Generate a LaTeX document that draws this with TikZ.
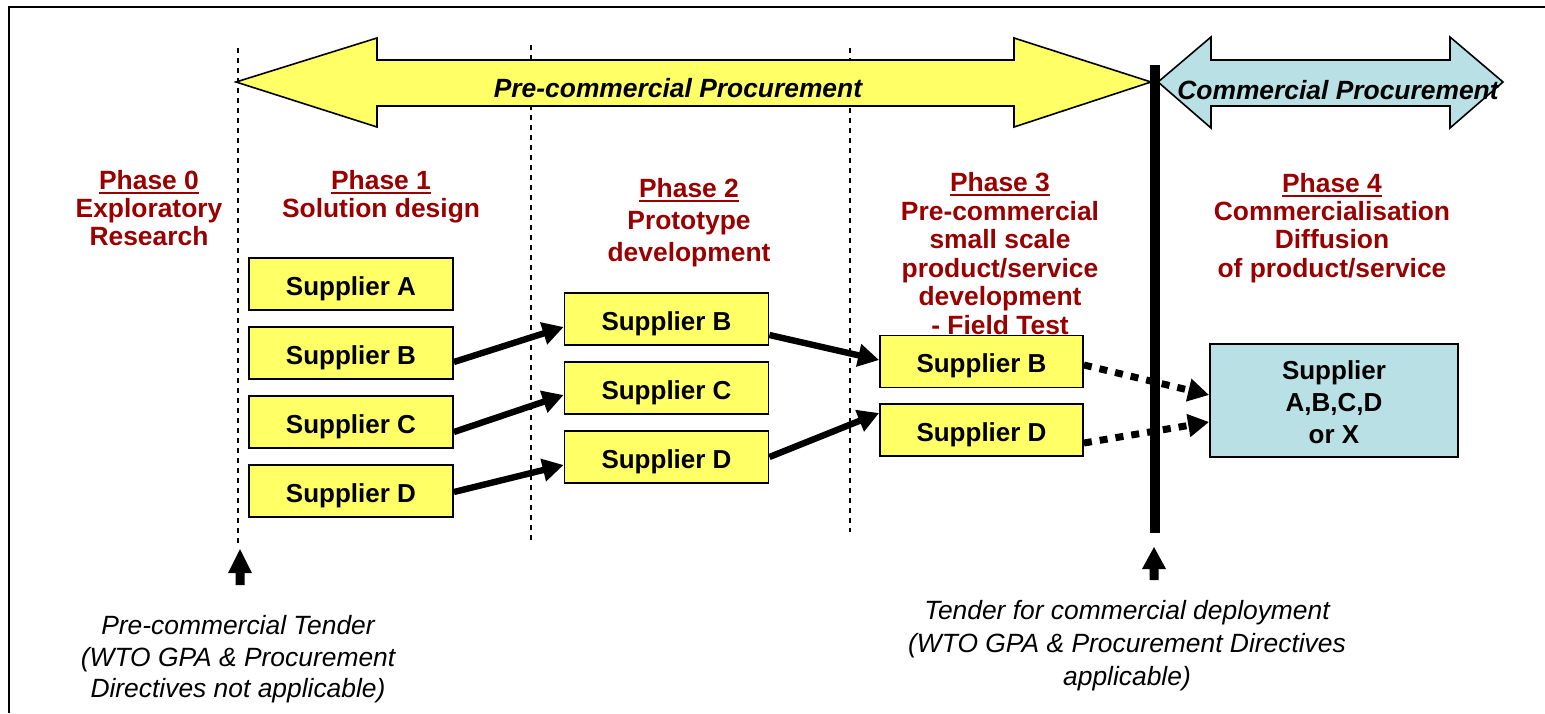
\documentclass[tikz,border=0pt]{standalone}
\usepackage{fontspec}
\setmainfont{Liberation Sans}
\usetikzlibrary{arrows.meta,calc}
\definecolor{phasered}{RGB}{153,0,0}
\definecolor{boxyellow}{RGB}{255,255,102}
\definecolor{boxblue}{RGB}{185,224,228}
\newcommand\phaseul[1]{\vtop{\hbox{#1}\kern1pt\hrule height 1pt}}
\begin{document}
\begin{tikzpicture}[x=0.5pt,y=-0.5pt,
  supbox/.style={draw=black, line width=0.9pt, fill=boxyellow, minimum width=102pt, minimum height=26pt, inner sep=0pt, text height=11pt, text depth=0pt, font=\fontsize{13}{15}\selectfont\bfseries},
  phasetxt/.style={align=center, anchor=north, inner sep=0pt, text=phasered, font=\fontsize{13.2}{14.1}\selectfont\bfseries},
  flow/.style={line width=3.2pt, -{Triangle[length=10.5pt,width=11pt]}},
  dotflow/.style={line width=3.5pt, dash pattern=on 4pt off 4pt, -{Triangle[length=10.5pt,width=11pt]}},
  phaseline/.style={line width=0.7pt, dash pattern=on 2.5pt off 2.5pt},
  note/.style={align=center, anchor=north, inner sep=0pt, font=\fontsize{13.2}{15.75}\selectfont\itshape},
  bigarrow/.style={draw=black, line width=0.8pt, line join=miter},
  arrowlabel/.style={inner sep=0pt, font=\fontsize{13.2}{15}\selectfont\bfseries\itshape}
]
\useasboundingbox (0,0) rectangle (1545,713);
% frame
\draw[line width=1pt] (1545,7) -- (9,7) -- (9,713);

% phase separators
\draw[phaseline] (238,48) -- (238,543);
\draw[phaseline] (531,45) -- (531,540);
\draw[phaseline] (850,48) -- (850,532);

% big arrows
\draw[bigarrow, fill=boxyellow] (236,82) -- (377,38) -- (377,60) -- (1014,60) -- (1014,38) -- (1151,82) -- (1014,127) -- (1014,106) -- (377,106) -- (377,127) -- cycle;
\node[arrowlabel] (pcp) at (678,88) {Pre-commercial Procurement};
\draw[bigarrow, fill=boxblue] (1158,82) -- (1211,37) -- (1211,60) -- (1450,60) -- (1450,37) -- (1503,82) -- (1450,128) -- (1450,106) -- (1211,106) -- (1211,128) -- cycle;
\node[arrowlabel] (cp) at (1338,90) {Commercial Procurement};

% black bar
\fill[black] (1150,65) rectangle (1160,533);

% phase titles
\node[phasetxt] (ph0) at (149,170) {\phaseul{Phase 0}\\Exploratory\\Research};
\node[phasetxt] (ph1) at (381,170) {\phaseul{Phase 1}\\Solution design};
\node[phasetxt, font=\fontsize{13.2}{16}\selectfont\bfseries] (ph2) at (689,178) {\phaseul{Phase 2}\\Prototype\\development};
\node[phasetxt, font=\fontsize{13.2}{14.3}\selectfont\bfseries] (ph3) at (1000,172) {\phaseul{Phase 3}\\Pre-commercial\\small scale\\product/service\\development\\- Field Test};
\node[phasetxt] (ph4) at (1332,173) {\phaseul{Phase 4}\\Commercialisation\\Diffusion\\of product/service};

% supplier boxes
\node[supbox] (a1) at (351,284) {Supplier A};
\node[supbox] (b1) at (351,353) {Supplier B};
\node[supbox] (c1) at (351,422) {Supplier C};
\node[supbox] (d1) at (351,491) {Supplier D};
\node[supbox] (b2) at (666.5,319) {Supplier B};
\node[supbox] (c2) at (666.5,388) {Supplier C};
\node[supbox] (d2) at (666.5,457) {Supplier D};
\node[supbox, minimum width=101.5pt] (b3) at (981.5,361.5) {Supplier B};
\node[supbox, minimum width=101.5pt] (d3) at (981.5,430) {Supplier D};
\node[draw=black, line width=0.9pt, fill=boxblue, minimum width=124pt, minimum height=56.5pt, inner sep=0pt, align=center, font=\fontsize{13}{16}\selectfont\bfseries] (x4) at (1334,400.5) {\rule{0pt}{11pt}Supplier\\A,B,C,D\\or X};

% flows
\draw[flow] ($(b1.east)+(0,9)$) -- ($(b2.west)+(0,8)$);
\draw[flow] ($(c1.east)+(0,10)$) -- ($(c2.west)+(0,7)$);
\draw[flow] ($(d1.east)+(0,1)$) -- ($(d2.west)+(0,8)$);
\draw[flow] ($(b2.east)+(0,16)$) -- ($(b3.west)+(0,-1.5)$);
\draw[flow] ($(d2.east)+(0,0)$) -- ($(d3.west)+(0,-17)$);
\draw[dotflow] ($(b3.east)+(0,3.5)$) -- ($(x4.west)+(0,-5.5)$);
\draw[dotflow] ($(d3.east)+(0,13)$) -- ($(x4.west)+(0,21.5)$);

% tender arrows
\fill[black] (240,549) -- (252,573) -- (244.5,573) -- (244.5,585) -- (235.5,585) -- (235.5,573) -- (228,573) -- cycle;
\fill[black] (1154,547) -- (1166,569) -- (1158.5,569) -- (1158.5,580) -- (1149.5,580) -- (1149.5,569) -- (1142,569) -- cycle;

% notes
\node[note] (t1) at (238,615) {Pre-commercial Tender\\(WTO GPA \& Procurement\\Directives not applicable)};
\node[note, font=\fontsize{13.2}{16.5}\selectfont\itshape] (t2) at (1127,600) {Tender for commercial deployment\\(WTO GPA \& Procurement Directives\\applicable)};
\end{tikzpicture}
\end{document}
